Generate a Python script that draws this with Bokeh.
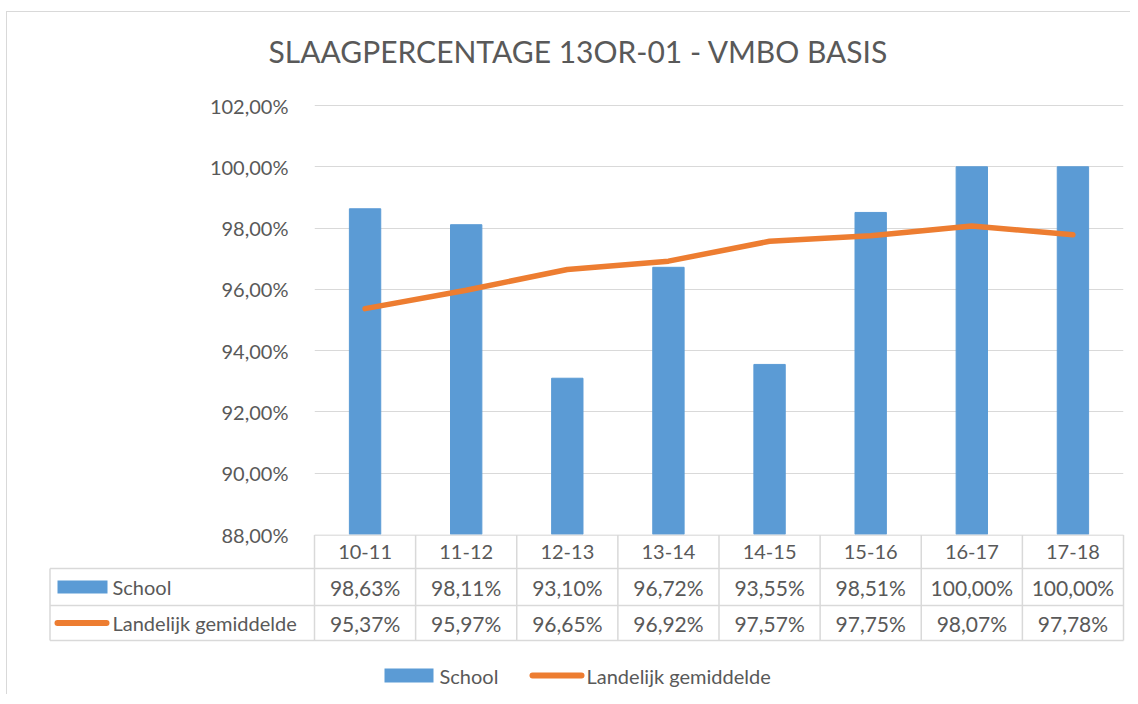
from bokeh.plotting import figure
from bokeh.layouts import column
from bokeh.models import Range1d, FixedTicker, CustomJSTickFormatter, ColumnDataSource, Title
from bokeh.core.properties import value
from bokeh.embed import file_html
from bokeh.resources import INLINE

# ---- data ----
categories = ["10-11", "11-12", "12-13", "13-14", "14-15", "15-16", "16-17", "17-18"]
school = [98.63, 98.11, 93.10, 96.72, 93.55, 98.51, 100.00, 100.00]
landelijk = [95.37, 95.97, 96.65, 96.92, 97.57, 97.75, 98.07, 97.78]
y_ticks = [88, 90, 92, 94, 96, 98, 100, 102]
series_names = ["School", "Landelijk gemiddelde"]
title_text = "SLAAGPERCENTAGE 13OR-01 - VMBO BASIS"

# ---- style ----
FONT = "Lato"
TXT = "#595959"
GRID = "#d9d9d9"
BLUE = "#5B9BD5"
ORANGE = "#ED7D31"

n = len(categories)
xc = [i + 0.5 for i in range(n)]

def pct(v):
    return f"{v:.2f}".replace(".", ",") + "%"

# ---- main chart ----
OVER = 14  # extra canvas below the frame so the lowest tick label is not clamped
p1 = figure(width=1123, height=522 + OVER, x_range=Range1d(0, n),
            y_range=Range1d(88, 102.033), title=None,
            x_axis_type=None, output_backend="svg", toolbar_location=None,
            min_border_top=92, min_border_bottom=OVER, min_border_left=307, min_border_right=7)
p1.frame_align = False
p1.outline_line_color = None
p1.background_fill_color = "white"
p1.border_fill_color = "white"
p1.xgrid.visible = False
p1.ygrid.grid_line_color = GRID
p1.ygrid.grid_line_width = 1
p1.yaxis.ticker = FixedTicker(ticks=y_ticks)
p1.yaxis.formatter = CustomJSTickFormatter(code="return tick.toFixed(2).replace('.', ',') + '%';")
p1.yaxis.axis_line_color = None
p1.yaxis.major_tick_line_color = None
p1.yaxis.minor_tick_line_color = None
p1.yaxis.major_label_standoff = 20
p1.yaxis.major_label_text_font = FONT
p1.yaxis.major_label_text_font_size = "20px"
p1.yaxis.major_label_text_color = TXT

# spacer between frame and title, then the title itself
p1.add_layout(Title(text=" ", text_font_size="2px", standoff=32), "above")
p1.add_layout(Title(text=title_text, text_font=FONT, text_font_size="30px",
                    text_font_style="normal", text_color=TXT, align="left",
                    offset=-46, standoff=0), "above")

src = ColumnDataSource(dict(x=xc, school=school, land=landelijk))
p1.vbar(x="x", top="school", bottom=88, width=0.31, source=src,
        fill_color=BLUE, line_color=BLUE)
p1.line(x="x", y="land", source=src, line_color=ORANGE, line_width=5.5,
        line_cap="round", line_join="round")

# ---- data table + legend ----
px_unit = 101.125
frame_left_px, frame_right_px = 44, 1128
x0 = -(314 - frame_left_px) / px_unit
x1 = n + (frame_right_px - 1123) / px_unit
lab_left = -(314 - 49.5) / px_unit

p2 = figure(width=1123, height=160, x_range=Range1d(x0, x1), y_range=Range1d(160, 0),
            x_axis_type=None, y_axis_type=None, output_backend="svg", toolbar_location=None,
            min_border_top=0, min_border_bottom=0, min_border_left=37, min_border_right=2)
p2.frame_align = False
p2.outline_line_color = None
p2.xgrid.visible = False
p2.ygrid.visible = False
p2.background_fill_alpha = 0
p2.border_fill_alpha = 0
p2.styles = {"margin-top": f"-{OVER}px"}

row_tops = [0.5, 34, 71, 106]
sx0, sy0, sx1, sy1 = [], [], [], []
# horizontal lines
sx0 += [0, lab_left, lab_left, lab_left]
sx1 += [n, n, n, n]
sy0 += row_tops
sy1 += row_tops
# vertical lines
for i in range(n + 1):
    sx0.append(i); sx1.append(i); sy0.append(row_tops[0]); sy1.append(row_tops[3])
sx0.append(lab_left); sx1.append(lab_left); sy0.append(row_tops[1]); sy1.append(row_tops[3])
p2.segment(sx0, sy0, sx1, sy1, line_color=GRID, line_width=1.5)

row_mid = [(row_tops[k] + row_tops[k + 1]) / 2 for k in range(3)]
tstyle = dict(text_font=value(FONT), text_font_size="20px", text_color=TXT,
              text_baseline="middle")
vstyle = dict(tstyle, text_font_size="21px")
p2.text(xc, [row_mid[0]] * n, text=categories, text_align="center", **tstyle)
p2.text(xc, [row_mid[1]] * n, text=[pct(v) for v in school], text_align="center", **vstyle)
p2.text(xc, [row_mid[2]] * n, text=[pct(v) for v in landelijk], text_align="center", **vstyle)

def ux(px):
    return (px - 314) / px_unit

# table keys
p2.quad(left=[ux(57)], right=[ux(107)], top=[row_mid[1] - 6.5], bottom=[row_mid[1] + 6.5],
        fill_color=BLUE, line_color=None)
p2.segment([ux(57)], [row_mid[2]], [ux(106)], [row_mid[2]], line_color=ORANGE,
           line_width=6, line_cap="round")
p2.text([ux(112)], [row_mid[1]], text=[series_names[0]], text_align="left", **tstyle)
p2.text([ux(112)], [row_mid[2]], text=[series_names[1]], text_align="left", **tstyle)

# legend
leg_y = 141
p2.quad(left=[ux(384)], right=[ux(433)], top=[leg_y - 7], bottom=[leg_y + 7],
        fill_color=BLUE, line_color=None)
p2.text([ux(439)], [leg_y], text=[series_names[0]], text_align="left", **tstyle)
p2.segment([ux(532)], [leg_y], [ux(581)], [leg_y], line_color=ORANGE,
           line_width=6, line_cap="round")
p2.text([ux(586)], [leg_y], text=[series_names[1]], text_align="left", **tstyle)

layout = column(p1, p2, spacing=0,
                styles={"border-top": "1px solid #d9d9d9", "border-left": "1px solid #d9d9d9",
                        "margin-top": "11px", "margin-left": "6px"})

open("out.html", "w").write(file_html(layout, INLINE))
